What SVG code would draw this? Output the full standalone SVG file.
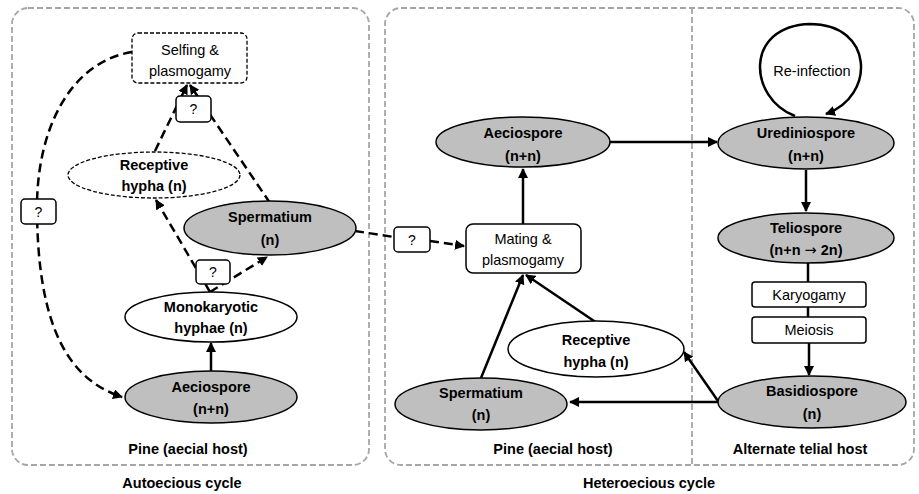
<svg xmlns="http://www.w3.org/2000/svg" width="919" height="494" viewBox="0 0 919 494">
<defs>
<marker id="ah" viewBox="0 0 10 10" refX="9" refY="5" markerWidth="10" markerHeight="10" markerUnits="userSpaceOnUse" orient="auto">
<path d="M0,0 L10,5 L0,10 z" fill="#000"/>
</marker>
<style>
text{font-family:"Liberation Sans",Arial,sans-serif;fill:#000;text-anchor:middle}
.b{font-weight:bold;font-size:14.5px}
.r{font-size:14.5px}
.q{font-size:14px}
.arr{font-family:"DejaVu Sans",sans-serif;font-weight:normal}
.panel{fill:none;stroke:#a6a6a6;stroke-width:1.8;stroke-dasharray:6 3}
.gray{fill:#bfbfbf;stroke:#000;stroke-width:1.5}
.white{fill:#fff;stroke:#000;stroke-width:1.5}
.dsh{fill:#fff;stroke:#000;stroke-width:1.3;stroke-dasharray:4 2}
.box{fill:#fff;stroke:#000;stroke-width:1.5}
.sol{fill:none;stroke:#000;stroke-width:2.5}
.dl{fill:none;stroke:#000;stroke-width:2.5;stroke-dasharray:9 5}
</style>
</defs>

<g id="panels">
<rect class="panel" x="12" y="8" width="357" height="457" rx="16"/>
<rect class="panel" x="385" y="8" width="529" height="457" rx="16"/>
<line class="panel" x1="692" y1="8" x2="692" y2="465"/>
<text class="b" x="188" y="454">Pine (aecial host)</text>
<text class="b" x="182" y="488">Autoecious cycle</text>
<text class="b" x="553" y="454">Pine (aecial host)</text>
<text class="b" x="800" y="454">Alternate telial host</text>
<text class="b" x="649" y="488">Heteroecious cycle</text>
</g>

<g id="connectors">
<path class="dl" d="M132,52 C70,62 36,130 37,211 C38,330 70,380 122,397" marker-end="url(#ah)"/>
<line class="dl" x1="155" y1="151" x2="187" y2="85" marker-end="url(#ah)"/>
<line class="dl" x1="270" y1="203" x2="190" y2="85" marker-end="url(#ah)"/>
<line class="dl" x1="210" y1="292" x2="156" y2="200" marker-end="url(#ah)"/>
<line class="dl" x1="210" y1="292" x2="267" y2="257" marker-end="url(#ah)"/>
<line class="sol" x1="211" y1="371" x2="211" y2="343" marker-end="url(#ah)"/>
<path class="dl" d="M355,231 L394,237 M430,241 L464,246" marker-end="url(#ah)"/>
<line class="sol" x1="523" y1="224" x2="523" y2="169" marker-end="url(#ah)"/>
<line class="sol" x1="609" y1="142" x2="717" y2="142" marker-end="url(#ah)"/>
<path class="sol" d="M795,116 C748,98 744,26 810,24 C874,24 876,96 826,114" marker-end="url(#ah)"/>
<line class="sol" x1="806" y1="170" x2="806" y2="211" marker-end="url(#ah)"/>
<line class="sol" x1="808" y1="263" x2="808" y2="317"/>
<line class="sol" x1="809" y1="343" x2="809" y2="375" marker-end="url(#ah)"/>
<line class="sol" x1="718" y1="402" x2="570" y2="402" marker-end="url(#ah)"/>
<line class="sol" x1="718" y1="401" x2="684" y2="352" marker-end="url(#ah)"/>
<line class="sol" x1="481" y1="378" x2="523" y2="275" marker-end="url(#ah)"/>
<line class="sol" x1="597" y1="323" x2="526" y2="275" marker-end="url(#ah)"/>
</g>

<g id="selfing">
<rect class="dsh" x="132" y="33" width="115" height="50" rx="6"/>
<text class="r" x="190" y="55">Selfing &amp;</text>
<text class="r" x="190" y="76">plasmogamy</text>
</g>
<g id="q1">
<rect class="box" x="176" y="96" width="35" height="26" rx="4"/>
<text class="q" x="193.5" y="114">?</text>
</g>
<g id="receptive-left">
<ellipse class="dsh" cx="154" cy="175" rx="86" ry="23"/>
<text class="b" x="154" y="170">Receptive</text>
<text class="b" x="154" y="191">hypha (n)</text>
</g>
<g id="spermatium-left">
<ellipse class="gray" cx="270" cy="228" rx="86" ry="27"/>
<text class="b" x="270" y="222">Spermatium</text>
<text class="b" x="270" y="245">(n)</text>
</g>
<g id="q2">
<rect class="box" x="21" y="199" width="35" height="25" rx="4"/>
<text class="q" x="38.5" y="217">?</text>
</g>
<g id="q3">
<rect class="box" x="196" y="260" width="34" height="24" rx="4"/>
<text class="q" x="213" y="277">?</text>
</g>
<g id="monokaryotic">
<ellipse class="white" cx="211" cy="317" rx="86" ry="25"/>
<text class="b" x="211" y="312">Monokaryotic</text>
<text class="b" x="211" y="333">hyphae (n)</text>
</g>
<g id="aeciospore-left">
<ellipse class="gray" cx="211" cy="397" rx="86" ry="26"/>
<text class="b" x="211" y="392">Aeciospore</text>
<text class="b" x="211" y="414">(n+n)</text>
</g>
<g id="q4">
<rect class="box" x="394" y="227" width="36" height="25" rx="4"/>
<text class="q" x="412" y="245">?</text>
</g>
<g id="mating">
<rect class="box" x="466" y="224" width="115" height="49" rx="7"/>
<text class="r" x="523" y="244">Mating &amp;</text>
<text class="r" x="523" y="265">plasmogamy</text>
</g>
<g id="aeciospore-right">
<ellipse class="gray" cx="523" cy="142" rx="87" ry="25"/>
<text class="b" x="523" y="138">Aeciospore</text>
<text class="b" x="523" y="161">(n+n)</text>
</g>
<g id="receptive-right">
<ellipse class="white" cx="596" cy="349" rx="88" ry="28"/>
<text class="b" x="596" y="345">Receptive</text>
<text class="b" x="596" y="367">hypha (n)</text>
</g>
<g id="spermatium-right">
<ellipse class="gray" cx="481" cy="404" rx="86" ry="26"/>
<text class="b" x="481" y="398">Spermatium</text>
<text class="b" x="481" y="420">(n)</text>
</g>
<g id="reinfection">
<text class="r" x="812" y="76">Re-infection</text>
</g>
<g id="urediniospore">
<ellipse class="gray" cx="806" cy="143" rx="88" ry="26"/>
<text class="b" x="806" y="138">Urediniospore</text>
<text class="b" x="806" y="161">(n+n)</text>
</g>
<g id="teliospore">
<ellipse class="gray" cx="806" cy="238" rx="88" ry="25"/>
<text class="b" x="806" y="233">Teliospore</text>
<text class="b" x="806" y="255">(n+n <tspan class="arr">→</tspan> 2n)</text>
</g>
<g id="karyogamy">
<rect class="box" x="752" y="282" width="114" height="25" rx="3"/>
<text class="r" x="809" y="300">Karyogamy</text>
</g>
<g id="meiosis">
<rect class="box" x="752" y="317" width="114" height="26" rx="3"/>
<text class="r" x="809" y="335">Meiosis</text>
</g>
<g id="basidiospore">
<ellipse class="gray" cx="812" cy="402" rx="94" ry="26"/>
<text class="b" x="812" y="396">Basidiospore</text>
<text class="b" x="812" y="419">(n)</text>
</g>
</svg>
